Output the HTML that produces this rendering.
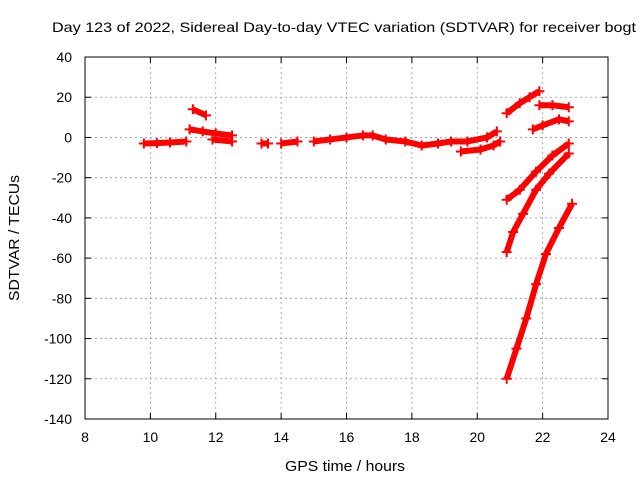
<!DOCTYPE html>
<html><head><meta charset="utf-8"><style>
body{margin:0;background:#fff}
svg{display:block;font-family:"Liberation Sans",sans-serif}
</style></head><body>
<svg id="c" width="640" height="480">
<text x="52" y="32" font-size="14" textLength="584" lengthAdjust="spacingAndGlyphs">Day 123 of 2022, Sidereal Day-to-day VTEC variation (SDTVAR) for receiver bogt</text>
<text x="285" y="471" font-size="15" textLength="120" lengthAdjust="spacingAndGlyphs">GPS time / hours</text>
<text transform="translate(19,238) rotate(-90)" text-anchor="middle" font-size="15" textLength="126" lengthAdjust="spacingAndGlyphs">SDTVAR / TECUs</text>
<g id="grid"></g><g id="marks"></g>
<rect x="85" y="57" width="523" height="362" fill="none" stroke="#000"/>
</svg>
<script>
const xTicks=[8,10,12,14,16,18,20,22,24];
const yTicks=[40,20,0,-20,-40,-60,-80,-100,-120,-140];
const s1=[[9.8,-3],[10.2,-2.8],[10.6,-2.5],[11.1,-2]];
const s2=[[11.2,4],[11.6,3],[12,2],[12.5,1]];
const s3=[[11.9,-1],[12.5,-2]];
const s4=[[13.4,-3],[13.6,-3]];
const s5=[[14,-3],[14.5,-2]];
const s6=[[15,-2],[15.5,-1],[16,0],[16.5,1],[16.8,1],[17.2,-1],[17.8,-2],[18.3,-4],[18.8,-3],[19.2,-2],[19.7,-2],[20.3,0],[20.6,3]];
const s7=[[11.3,14],[11.7,11]];
const s8=[[19.5,-7],[20.1,-6],[20.5,-4],[20.7,-2]];
const s9=[[20.9,12],[21.3,17],[21.6,20],[21.9,23]];
const s10=[[21.9,16],[22.3,16],[22.8,15]];
const s11=[[21.7,4],[22,6],[22.5,9],[22.8,8]];
const s12=[[20.9,-31],[21.3,-26],[21.8,-17],[22.3,-9],[22.8,-3]];
const s13=[[20.9,-57],[21.1,-47],[21.4,-38],[21.8,-26],[22.2,-18],[22.8,-8]];
const s14=[[20.9,-120],[21.2,-105],[21.5,-90],[21.8,-73],[22.1,-58],[22.5,-45],[22.9,-33]];
const series=[s1,s2,s3,s4,s5,s6,s7,s8,s9,s10,s11,s12,s13,s14];
const NS="http://www.w3.org/2000/svg";
const X=v=>85+(v-8)*523/16, Y=v=>57+(40-v)*362/180;
function mk(t,a,p){const e=document.createElementNS(NS,t);for(const k in a)e.setAttribute(k,a[k]);p.appendChild(e);return e;}
const g=document.getElementById('grid'),m=document.getElementById('marks');
xTicks.forEach(v=>{const x=X(v);
 if(v>8&&v<24){const l=mk('line',{x1:x,x2:x,y1:57,y2:419,stroke:'#999','stroke-dasharray':'2,3','stroke-width':0.8},g);}
 mk('line',{x1:x,x2:x,y1:419,y2:413,stroke:'#000'},g);mk('line',{x1:x,x2:x,y1:57,y2:63,stroke:'#000'},g);
 const t=mk('text',{x:x,y:442,'text-anchor':'middle','font-size':14},g);t.textContent=v;
 });
yTicks.forEach(v=>{const y=Y(v);
 if(v<40&&v>-140){const l=mk('line',{x1:85,x2:608,y1:y,y2:y,stroke:'#999','stroke-dasharray':'2,3','stroke-width':0.8},g);}
 mk('line',{x1:85,x2:91,y1:y,y2:y,stroke:'#000'},g);mk('line',{x1:608,x2:602,y1:y,y2:y,stroke:'#000'},g);
 const t=mk('text',{x:72,y:y+5,'text-anchor':'end','font-size':14},g);t.textContent=v;
 });
series.forEach(s=>{
 const pl=mk('polyline',{points:s.map(p=>X(p[0])+','+Y(p[1])).join(' '),fill:'none',stroke:'#f00','stroke-width':6,'stroke-linejoin':'round'},m);
 
 
 s.forEach(p=>{const x=X(p[0]),y=Y(p[1]);
  const pt=mk('path',{d:`M${x-5},${y}H${x+5}M${x},${y-5}V${y+5}`,stroke:'#f00','stroke-width':2},m);
  
  });
});
</script>
</body></html>
